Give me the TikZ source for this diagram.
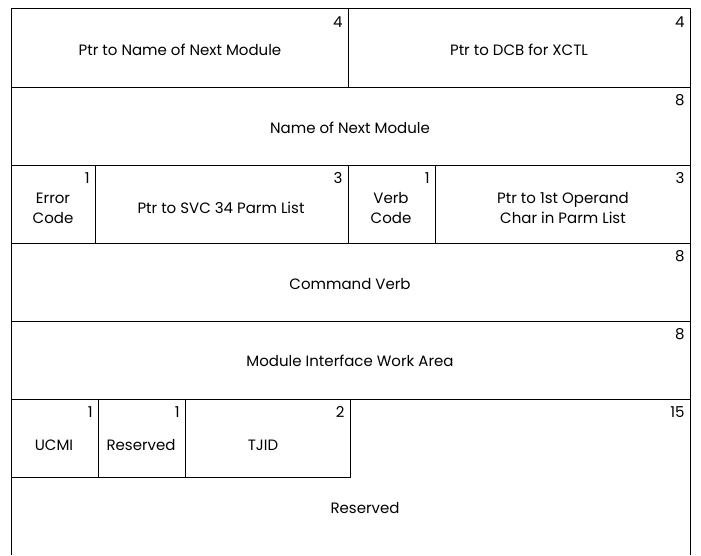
\documentclass[tikz,border=0pt]{standalone}
\usepackage{fontspec}
\setmainfont{Poppins}

\begin{document}
\begin{tikzpicture}[x=1pt,y=-1pt,line width=0.9pt,
  field/.style={align=center,font=\fontsize{15}{20}\selectfont},
  count/.style={anchor=north east,inner sep=0pt,font=\fontsize{15}{20}\selectfont}]
  \useasboundingbox (0,0) rectangle (701,555);

  % outline and full-width rules
  \draw (11,555) -- (11,8) -- (690,8) -- (690,555);
  \foreach \y in {87,165,243,321,399}
    \draw (11,\y) -- (690,\y);
  % field dividers
  \draw (348,8) -- (348,87);
  \draw (95,165) -- (95,243);
  \draw (348,165) -- (348,243);
  \draw (435,165) -- (435,243);
  \draw (98,399) -- (98,477);
  \draw (185,399) -- (185,477);
  \draw (350,399) -- (350,477) -- (11,477);

  % field names
  \node[field] (ptrname) at (180,50) {Ptr to Name of Next Module};
  \node[field] (ptrdcb) at (519,50) {Ptr to DCB for XCTL};
  \node[field] (nextmod) at (350,128) {Name of Next Module};
  \node[field] (errcode) at (53,208) {Error\\Code};
  \node[field] (ptrsvc) at (221,208) {Ptr to SVC 34 Parm List};
  \node[field] (verbcode) at (391,208) {Verb\\Code};
  \node[field] (ptroper) at (563,208) {Ptr to 1st Operand\\Char in Parm List};
  \node[field] (cmdverb) at (350,284) {Command Verb};
  \node[field] (miwa) at (350,361) {Module Interface Work Area};
  \node[field] (ucmi) at (54,445) {UCMI};
  \node[field] (rsvd1) at (141,445) {Reserved};
  \node[field] (tjid) at (263,445) {TJID};
  \node[field] (rsvd2) at (365,508) {Reserved};

  % field lengths in bytes
  \foreach \x/\y/\n in {343/16/4, 685/16/4, 685/94/8, 90/172/1, 343/172/3,
                        430/172/1, 685/172/3, 685/250/8, 685/328/8,
                        93/406/1, 180/406/1, 345/406/2, 685/406/15}
    \node[count] at (\x,\y) {\n};
\end{tikzpicture}
\end{document}
